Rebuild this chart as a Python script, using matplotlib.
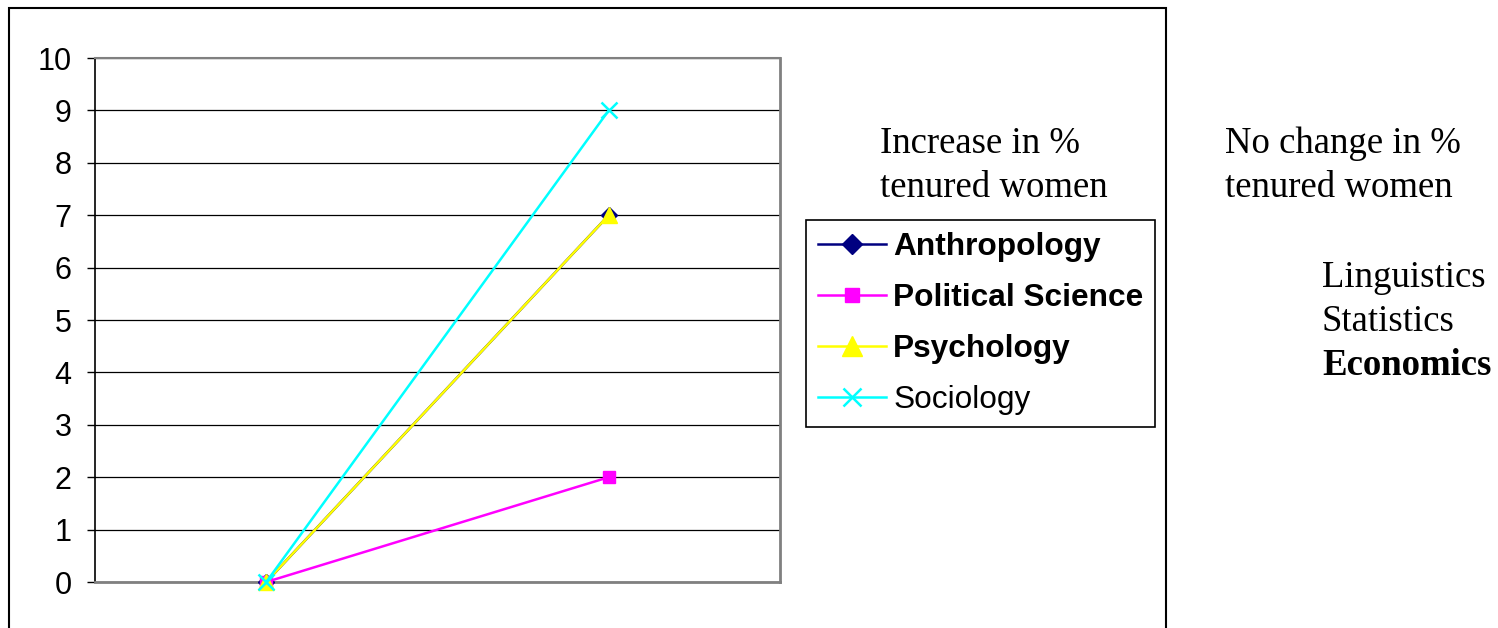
import matplotlib
matplotlib.use("Agg")
import matplotlib.pyplot as plt
from matplotlib.patches import Rectangle
from matplotlib.lines import Line2D

W, H = 1498, 628

categories = ["Before", "After"]
series_names = ["Anthropology", "Political Science", "Psychology", "Sociology"]
anthropology = [0, 7]
political_science = [0, 2]
psychology = [0, 7]
sociology = [0, 9]
yticks = list(range(0, 11))

increase_text = ["Increase in %", "tenured women"]
nochange_text = ["No change in %", "tenured women"]
nochange_fields = ["Linguistics", "Statistics", "Economics"]

fig = plt.figure(figsize=(W / 100, H / 100), dpi=100)
fig.patch.set_facecolor("white")

def fx(px):
    return px / W

def fy(py):
    return 1 - py / H

ax = fig.add_axes([fx(95), fy(582), fx(780) - fx(95), fy(58) - fy(582)])

styles = [
    dict(color="#000080", marker="D", markersize=8.5),
    dict(color="#FF00FF", marker="s", markersize=9),
    dict(color="#FFFF00", marker="^", markersize=12),
    dict(color="#00FFFF", marker="x", markersize=11.5, markeredgewidth=1.8),
]
data = [anthropology, political_science, psychology, sociology]
x = list(range(len(categories)))
for name, vals, st in zip(series_names, data, styles):
    ax.plot(x, vals, linewidth=1.8, clip_on=False, label=name, zorder=3, **st)

ax.set_xlim(-0.5, 1.5)
ax.set_ylim(0, 10)
ax.set_yticks(yticks)
ax.set_yticklabels([str(v) for v in yticks], fontsize=22, family="Liberation Sans")
ax.set_xticks([])
ax.tick_params(axis="y", direction="out", length=6, width=1, pad=11, colors="black")
ax.grid(axis="y", color="black", linewidth=0.9, zorder=1)
ax.set_axisbelow(True)
for s in ["right", "bottom"]:
    ax.spines[s].set_color("#808080")
    ax.spines[s].set_linewidth(2)
ax.spines["top"].set_color("#808080")
ax.spines["top"].set_linewidth(1.5)
ax.spines["left"].set_color("black")
ax.spines["left"].set_linewidth(1.2)

# Legend
handles = []
for name, st in zip(series_names, styles):
    hst = dict(st)
    hst["markersize"] = st["markersize"] * 1.15
    handles.append(Line2D([0], [0], linewidth=1.8, **hst))
leg = fig.legend(handles, series_names, loc="upper left",
                 bbox_to_anchor=(fx(806), fy(220)), bbox_transform=fig.transFigure,
                 frameon=True, fancybox=False, edgecolor="black", framealpha=1,
                 handlelength=2.15, handletextpad=0.22, labelspacing=0.66,
                 borderpad=0.38, borderaxespad=0,
                 prop=dict(family="Liberation Sans", size=22.8))
leg.get_frame().set_linewidth(1.2)
for i, t in enumerate(leg.get_texts()):
    if i < 3:
        t.set_fontweight("bold")

# Side texts
serif = "Liberation Serif"
fs = 26.5
fig.text(fx(880), fy(153), increase_text[0], fontsize=fs, family=serif, va="baseline")
fig.text(fx(880), fy(197), increase_text[1], fontsize=fs, family=serif, va="baseline")
fig.text(fx(1225), fy(153), nochange_text[0], fontsize=fs, family=serif, va="baseline")
fig.text(fx(1225), fy(197), nochange_text[1], fontsize=fs, family=serif, va="baseline")
for i, name in enumerate(nochange_fields):
    fig.text(fx(1322), fy(287 + 44 * i), name, fontsize=fs, family=serif, va="baseline",
             fontweight="bold" if name == "Economics" else "normal")

# Outer chart border
fig.patches.append(Rectangle((fx(9), fy(700)), fx(1166) - fx(9), fy(8) - fy(700),
                             transform=fig.transFigure, fill=False,
                             edgecolor="black", linewidth=1.5, clip_on=False))

fig.savefig("out.png", dpi=100)
